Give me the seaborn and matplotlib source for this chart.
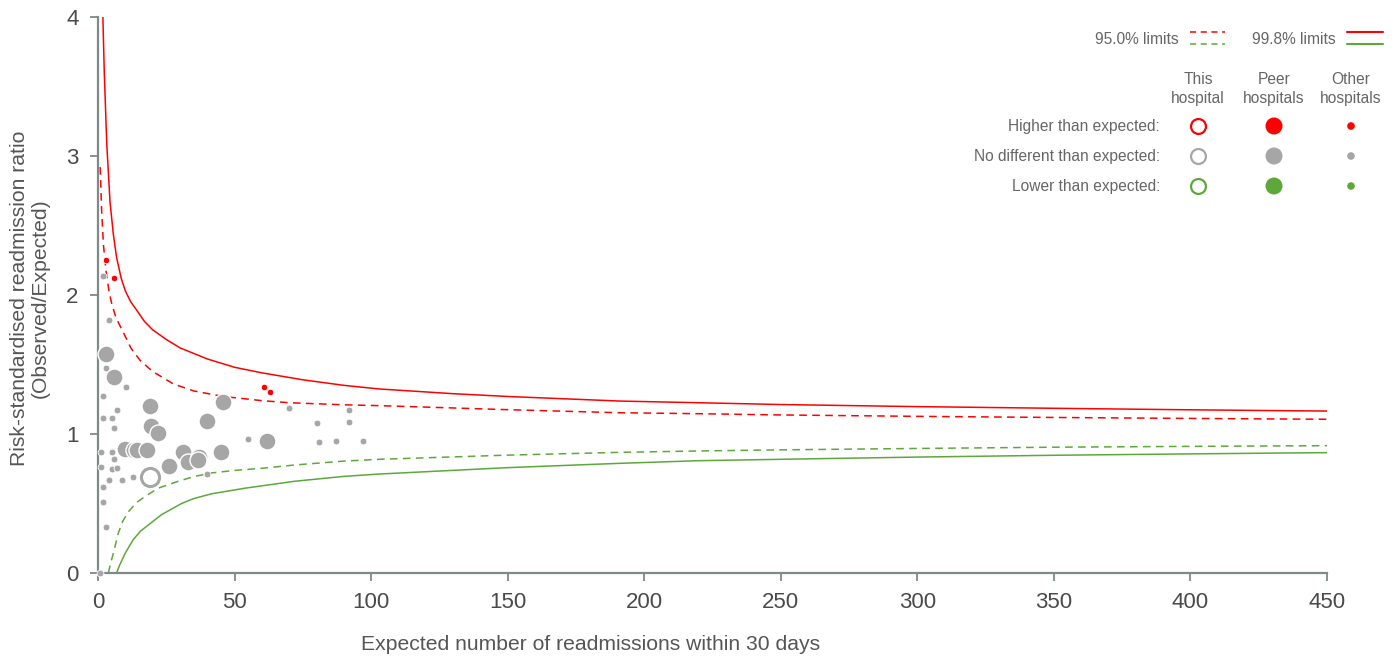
import numpy as np
import pandas as pd
import matplotlib
matplotlib.use('Agg')
import matplotlib.pyplot as plt
import seaborn as sns

# control limits (expected count, ratio)
u998_x = [1.4, 2.3, 3.2, 4.4, 5.6, 6.8, 8.5, 10, 12, 14.2, 17, 20, 25, 30, 35, 40, 50, 60, 75, 90,
          103, 130, 150, 191, 220, 250, 300, 350, 400, 450]
u998_y = [4.3, 3.6, 3.09, 2.67, 2.44, 2.27, 2.12, 2.03, 1.95, 1.89, 1.81, 1.75, 1.68, 1.62, 1.58,
          1.54, 1.48, 1.44, 1.39, 1.35, 1.324, 1.29, 1.27, 1.237, 1.225, 1.212, 1.197, 1.185,
          1.174, 1.165]
u95_x = [0.8, 1.3, 2.0, 2.9, 4.0, 5.0, 6.2, 7.5, 9.3, 12, 15.4, 20, 27.6, 35, 45.9, 60, 70, 90,
         103, 150, 191, 220, 250, 300, 350, 400, 450]
u95_y = [2.92, 2.62, 2.36, 2.18, 2.03, 1.94, 1.86, 1.80, 1.73, 1.62, 1.53, 1.45, 1.36, 1.31, 1.27,
         1.24, 1.225, 1.21, 1.204, 1.175, 1.153, 1.146, 1.137, 1.127, 1.119, 1.112, 1.106]
l95_x = [3.8, 4.6, 5.6, 7.4, 9, 11.1, 14, 17.2, 22, 29.4, 35, 41.6, 50, 59.9, 72, 90, 103, 150, 191,
         220, 250, 300, 350, 400, 450]
l95_y = [0.0, 0.07, 0.14, 0.285, 0.37, 0.44, 0.505, 0.55, 0.61, 0.66, 0.693, 0.72, 0.738, 0.753,
         0.777, 0.805, 0.818, 0.848, 0.868, 0.878, 0.886, 0.896, 0.905, 0.911, 0.916]
l998_x = [6.8, 8, 9.9, 12.9, 15.5, 18.4, 23.3, 30.6, 35, 41.6, 53.8, 72, 90, 103, 150, 191, 220,
          250, 300, 350, 400, 450]
l998_y = [0.0, 0.06, 0.14, 0.24, 0.30, 0.345, 0.42, 0.50, 0.535, 0.57, 0.61, 0.66, 0.695, 0.712,
          0.758, 0.789, 0.808, 0.818, 0.834, 0.847, 0.857, 0.866]

# hospitals
other_x = [1.95, 4.0, 2.8, 10.1, 1.95, 7.1, 1.95, 5.0, 6.0, 1.0, 5.0, 6.0, 1.0, 5.0, 7.1, 4.0, 8.9,
           12.9, 1.95, 1.95, 2.93, 0.9, 40.0, 55.0, 70.0, 80.1, 81.0, 87.0, 92.0, 92.0, 97.1]
other_y = [2.137, 1.82, 1.477, 1.34, 1.276, 1.17, 1.113, 1.117, 1.04, 0.873, 0.868, 0.818, 0.763,
           0.748, 0.758, 0.669, 0.669, 0.688, 0.621, 0.513, 0.329, 0.0, 0.71, 0.966, 1.19, 1.077,
           0.94, 0.947, 1.173, 1.084, 0.947]
other_high_x = [2.9, 6.0, 60.9, 63.0]
other_high_y = [2.25, 2.12, 1.34, 1.30]
peer_x = [2.93, 5.86, 19.0, 19.4, 22.1, 9.9, 13.0, 14.2, 17.8, 26.0, 31.0, 33.1, 37.0, 36.7, 45.0,
          40.0, 45.9, 62.0]
peer_y = [1.573, 1.41, 1.20, 1.06, 1.005, 0.89, 0.888, 0.885, 0.885, 0.772, 0.873, 0.796, 0.837,
          0.81, 0.873, 1.094, 1.228, 0.95]
this_x = [19.0]
this_y = [0.69]

RED = '#ff0000'
GREEN = '#5da83b'
GREY = '#a6a6a6'
AXC = '#7d8a8a'

sns.set_style('white')
plt.rcParams['font.family'] = ['Liberation Sans', 'DejaVu Sans']

fig = plt.figure(figsize=(13.94, 6.59), dpi=100)
ax = fig.add_axes([98 / 1394, 86 / 659, 1229 / 1394, 556 / 659])

sns.lineplot(x=u998_x, y=u998_y, ax=ax, color=RED, lw=1.1, sort=False)
sns.lineplot(x=u95_x, y=u95_y, ax=ax, color=RED, lw=1.1, linestyle=(0, (5, 3.5)), sort=False)
sns.lineplot(x=l95_x, y=l95_y, ax=ax, color=GREEN, lw=1.1, linestyle=(0, (5, 3.5)), sort=False)
sns.lineplot(x=l998_x, y=l998_y, ax=ax, color=GREEN, lw=1.1, sort=False)

sns.scatterplot(x=other_x, y=other_y, ax=ax, color=GREY, s=24, edgecolor='white', linewidth=0.6,
                clip_on=False, zorder=5)
sns.scatterplot(x=other_high_x, y=other_high_y, ax=ax, color=RED, s=22, edgecolor='white',
                linewidth=0.6, clip_on=False, zorder=5)
sns.scatterplot(x=peer_x, y=peer_y, ax=ax, color=GREY, s=150, edgecolor='white', linewidth=1.0,
                clip_on=False, zorder=6)
sns.scatterplot(x=this_x, y=this_y, ax=ax, facecolor='white', edgecolor=GREY, s=170,
                linewidth=2.2, clip_on=False, zorder=7)

ax.set_xlim(0, 450)
ax.set_ylim(0, 4)
ax.set_xticks(np.arange(0, 451, 50))
ax.set_yticks([0, 1, 2, 3, 4])
sns.despine(ax=ax)
for side in ['left', 'bottom']:
    ax.spines[side].set_color(AXC)
    ax.spines[side].set_linewidth(1.6)
ax.tick_params(axis='both', which='major', direction='out', length=6, width=1.3, color=AXC,
               labelsize=16, labelcolor='#4a4a4a', pad=8, left=True, bottom=True)
ax.set_xlabel('')
ax.set_ylabel('')

fig.text(591 / 1394, 1 - 645 / 659, 'Expected number of readmissions within 30 days',
         ha='center', va='center', fontsize=15.2, color='#555555')
fig.text(30 / 1394, 1 - 298 / 659, 'Risk-standardised readmission ratio\n(Observed/Expected)',
         ha='center', va='center', rotation=90, fontsize=15.2, color='#555555',
         multialignment='center', linespacing=1.15)

# legend drawn in pixel coordinates
lax = fig.add_axes([0, 0, 1, 1])
lax.set_xlim(0, 1394)
lax.set_ylim(659, 0)
lax.axis('off')
TXT = '#666666'
FS = 11.2
lax.text(1179, 39, '95.0% limits', ha='right', va='center', fontsize=FS, color=TXT)
lax.plot([1190, 1225], [32, 32], color=RED, lw=1.1, ls=(0, (4, 3)))
lax.plot([1190, 1225], [44, 44], color=GREEN, lw=1.1, ls=(0, (4, 3)))
lax.text(1336, 39, '99.8% limits', ha='right', va='center', fontsize=FS, color=TXT)
lax.plot([1347, 1383], [32, 32], color=RED, lw=1.5)
lax.plot([1347, 1383], [44, 44], color=GREEN, lw=1.5)

col_x = [1198, 1274, 1351]
headers = ['This\nhospital', 'Peer\nhospitals', 'Other\nhospitals']
for cx, h in zip(col_x, headers):
    lax.text(cx, 89, h, ha='center', va='center', fontsize=FS, color=TXT, linespacing=1.25)
rows = ['Higher than expected:', 'No different than expected:', 'Lower than expected:']
row_y = [126, 156, 186]
row_c = [RED, GREY, GREEN]
for ry, label, c in zip(row_y, rows, row_c):
    lax.text(1160, ry, label, ha='right', va='center', fontsize=FS, color=TXT)
    lax.scatter([col_x[0]], [ry], s=115, facecolor='white', edgecolor=c, linewidth=1.6)
    lax.scatter([col_x[1]], [ry], s=150, color=c, edgecolor='none')
    lax.scatter([col_x[2]], [ry], s=30, color=c, edgecolor='none')

fig.savefig('out.png', dpi=100)
